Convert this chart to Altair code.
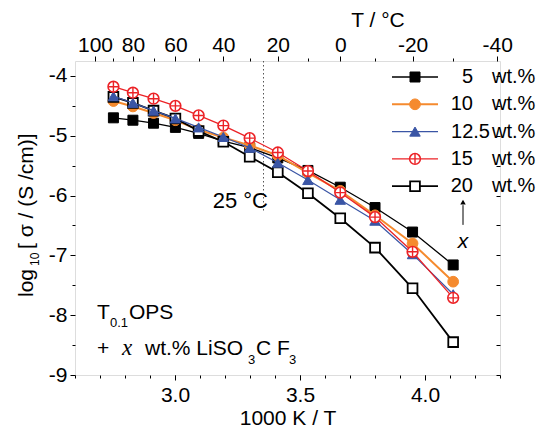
import altair as alt
import pandas as pd

# ---------------- data ----------------
temps_c = [90, 80, 70, 60, 50, 40, 30, 20, 10, 0, -10, -20, -30]
wt5 = [-4.70, -4.74, -4.79, -4.86, -4.96, -5.09, -5.20, -5.37, -5.58, -5.86, -6.20, -6.61, -7.16]
wt10 = [-4.42, -4.51, -4.62, -4.74, -4.90, -5.03, -5.16, -5.33, -5.62, -5.92, -6.33, -6.80, -7.44]
wt12_5 = [-4.34, -4.45, -4.58, -4.71, -4.86, -5.02, -5.20, -5.45, -5.74, -6.07, -6.42, -6.98, -7.65]
wt15 = [-4.18, -4.28, -4.38, -4.50, -4.66, -4.83, -5.04, -5.28, -5.59, -5.95, -6.36, -6.94, -7.71]
wt20 = [-4.35, -4.45, -4.58, -4.71, -4.92, -5.10, -5.35, -5.61, -5.96, -6.38, -6.87, -7.55, -8.45]
legend_labels = ["5", "10", "12.5", "15", "20"]
x_ticks = [3.0, 3.5, 4.0]
y_ticks = [-9, -8, -7, -6, -5, -4]
top_ticks_c = [100, 80, 60, 40, 20, 0, -20, -40]
top_minor_c = [90, 70, 50, 30, 10, -10, -30]
room_temp_c = 25

# ---------------- layout / style ----------------
FONT = "Liberation Sans"
W, H = 425, 314
L, T = 75, 61
XD = [2.6, 4.3]
YD = [-9.0, -3.75]
xs = alt.Scale(domain=XD, nice=False, zero=False)
ys = alt.Scale(domain=YD, nice=False, zero=False)


def inv(tc):
    return 1000.0 / (tc + 273.15)


inv_T = [inv(t) for t in temps_c]
one = pd.DataFrame({"a": [0]})
dummy = pd.DataFrame({"x": [3.0], "y": [-5.0]})


def px(x):
    return x - L


def py(y):
    return y - T


def txt(s, x, y, size=21, align="left", baseline="alphabetic", angle=0,
        style="normal", font=FONT):
    return alt.Chart(one).mark_text(
        text=s, align=align, baseline=baseline, angle=angle, fontSize=size,
        font=font, fontStyle=style, color="black"
    ).encode(x=alt.value(px(x)), y=alt.value(py(y)))


LEG_Y0, LEG_DY = 77, 27.3


def series(vals, i, color, shape, lw, fill, stroke_w, size=110, cross=False):
    df = pd.DataFrame({"x": inv_T, "y": vals})
    base = alt.Chart(df).encode(
        x=alt.X("x:Q", scale=xs, axis=None),
        y=alt.Y("y:Q", scale=ys, axis=None),
    )
    layers = [
        base.mark_line(color=color, strokeWidth=lw),
        base.mark_point(shape=shape, filled=True, fill=fill, stroke=color,
                        strokeWidth=stroke_w, size=size, opacity=1),
    ]
    if cross:
        layers.append(base.mark_point(shape="M-1,0L1,0M0,-1L0,1", filled=False,
                                      stroke=color, strokeWidth=1.4, size=95, opacity=1))
    ly = LEG_Y0 + i * LEG_DY
    leg = alt.Chart(one)
    layers.append(leg.mark_rule(color=color, strokeWidth=lw).encode(
        x=alt.value(px(392)), x2=alt.value(px(438)), y=alt.value(py(ly))))
    layers.append(leg.mark_point(shape=shape, filled=True, fill=fill, stroke=color,
                                 strokeWidth=stroke_w, size=size, opacity=1).encode(
        x=alt.value(px(415)), y=alt.value(py(ly))))
    if cross:
        layers.append(leg.mark_point(shape="M-1,0L1,0M0,-1L0,1", filled=False,
                                     stroke=color, strokeWidth=1.4, size=95, opacity=1).encode(
            x=alt.value(px(415)), y=alt.value(py(ly))))
    lab = legend_labels[i]
    nx = 490 if "." in lab else 473
    layers.append(txt(lab, nx, ly, size=20, align="right", baseline="middle"))
    layers.append(txt("wt.%", 492, ly, size=20, align="left", baseline="middle"))
    return layers


BLACK = "#000000"
ORANGE = "#F58A2E"
BLUE = "#3A55A5"
RED = "#EC2226"

layers = []
layers += series(wt5, 0, BLACK, "square", 1.3, BLACK, 1, size=100)
layers += series(wt10, 1, ORANGE, "circle", 2.0, ORANGE, 1, size=115)
layers += series(wt20, 4, BLACK, "square", 1.8, "white", 1.8, size=95)
layers += series(wt12_5, 2, BLUE, "triangle-up", 1.2, BLUE, 1, size=110)
layers += series(wt15, 3, RED, "circle", 1.3, "white", 1.6, size=115, cross=True)

# ---------------- axes ----------------
ax_kw = dict(grid=False, domain=False, tickColor="black", labelColor="black",
             labelFont=FONT, labelFontSize=21, tickWidth=1)

main_axes = alt.Chart(dummy).mark_point(opacity=0).encode(
    x=alt.X("x:Q", scale=xs, axis=alt.Axis(
        orient="bottom", values=x_ticks, format=".1f", tickSize=5, labelPadding=4,
        title="1000 K / T", titleFont=FONT, titleFontSize=21, titleFontWeight="normal",
        titlePadding=2, titleColor="black", **ax_kw)),
    y=alt.Y("y:Q", scale=ys, axis=alt.Axis(
        orient="left", values=y_ticks, labelExpr="'' + datum.value", tickSize=5,
        labelPadding=3, title=None, **ax_kw)),
)

x_minor = [round(XD[0] + 0.1 * k, 2) for k in range(18)]
y_minor = [v + 0.5 for v in y_ticks[:-1]]
minor_axes = alt.Chart(dummy).mark_point(opacity=0).encode(
    x=alt.X("x:Q", scale=xs, axis=alt.Axis(
        orient="bottom", values=x_minor, labels=False, tickSize=3, title=None, **ax_kw)),
    y=alt.Y("y:Q", scale=ys, axis=alt.Axis(
        orient="left", values=y_minor, labels=False, tickSize=3, title=None, **ax_kw)),
)

top_axes = alt.Chart(dummy).mark_point(opacity=0).encode(
    x=alt.X("x:Q", scale=xs, axis=alt.Axis(
        orient="top", values=[inv(t) for t in top_ticks_c],
        labelExpr="'' + round(1000 / datum.value - 273.15)", tickSize=5, labelPadding=1,
        title=None, **ax_kw)),
    y=alt.Y("y:Q", scale=ys, axis=alt.Axis(
        orient="right", values=sorted(y_ticks + y_minor), labels=False, tickSize=4,
        offset=-4, title=None, **ax_kw)),
)

top_minor = alt.Chart(dummy).mark_point(opacity=0).encode(
    x=alt.X("x:Q", scale=xs, axis=alt.Axis(
        orient="top", values=[inv(t) for t in top_minor_c], labels=False, tickSize=3,
        title=None, **ax_kw)),
    y=alt.Y("y:Q", scale=ys, axis=None),
)

# ---------------- annotations ----------------
rt = pd.DataFrame({"x": [inv(room_temp_c)], "y1": [YD[1]], "y2": [-6.28]})
rt_rule = alt.Chart(rt).mark_rule(color="#555555", strokeWidth=1, strokeDash=[1.5, 2.5]).encode(
    x=alt.X("x:Q", scale=xs, axis=None), y=alt.Y("y1:Q", scale=ys, axis=None), y2="y2:Q")

arrow_df = pd.DataFrame({"x": [4.152], "y1": [-6.49], "y2": [-6.16], "yh": [-6.11]})
arrow_shaft = alt.Chart(arrow_df).mark_rule(color="black", strokeWidth=1).encode(
    x=alt.X("x:Q", scale=xs, axis=None), y=alt.Y("y1:Q", scale=ys, axis=None), y2="y2:Q")
arrow_head = alt.Chart(arrow_df).mark_point(shape="triangle-up", filled=True, color="black",
                                            size=30, opacity=1).encode(
    x=alt.X("x:Q", scale=xs, axis=None), y=alt.Y("yh:Q", scale=ys, axis=None))

annots = [
    rt_rule, arrow_shaft, arrow_head,
    txt("x", 463, 242, size=21, align="center", baseline="middle", style="italic"),
    txt("25 °C", 268, 208, size=22, align="right"),
    txt("T / °C", 378, 21, size=21, align="center", baseline="middle"),
    # y title
    txt("log", 33, 297, size=21, angle=270),
    txt("10", 39, 266, size=12, angle=270),
    txt("[ σ / (S /cm)]", 33, 249, size=21, angle=270),
    # sample label
    txt("T", 97, 319, size=21),
    txt("0.1", 110, 327, size=13),
    txt("OPS", 129, 319, size=21),
    txt("+", 97, 355, size=21),
    txt("x", 122, 355, size=23, style="italic", font="Liberation Serif"),
    txt("wt.% LiSO", 145, 355, size=21),
    txt("3", 248, 364, size=13),
    txt("C F", 256, 355, size=21),
    txt("3", 289, 364, size=13),
]

chart = alt.layer(main_axes, minor_axes, top_axes, top_minor, *annots, *layers).resolve_axis(
    x="independent", y="independent"
).properties(
    width=W, height=H,
    padding={"left": L, "top": T, "right": 540 - L - W, "bottom": 436 - T - H},
    autosize=alt.AutoSizeParams(type="none"),
).configure_view(stroke="black", strokeWidth=1).configure(background="white")

chart.save("out.html", embed_options={"renderer": "svg", "actions": False})
